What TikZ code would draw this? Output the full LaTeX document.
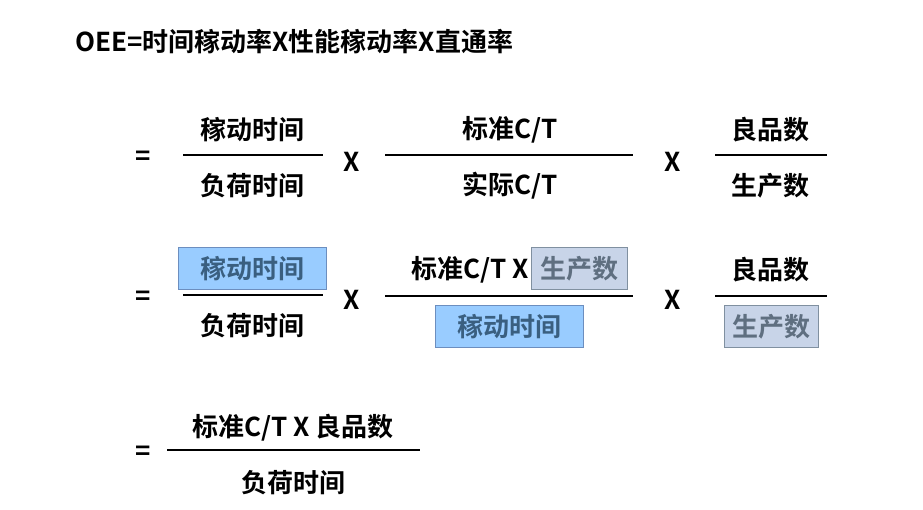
\documentclass[tikz,border=0pt]{standalone}
\usepackage{fontspec}
\setmainfont{Noto Sans CJK SC}[BoldFont={* Bold}]
\newfontfamily\cjkb{Noto Sans CJK SC Bold}
\definecolor{bfill}{HTML}{99CCFF}
\definecolor{bdraw}{HTML}{6C8EBF}
\definecolor{btext}{HTML}{3A5F80}
\definecolor{gfill}{HTML}{C8D4E8}
\definecolor{gdraw}{HTML}{8090A0}
\definecolor{gtext}{HTML}{5F6F80}
\begin{document}
\begin{tikzpicture}[x=1pt,y=-1pt,
  t/.style={font=\cjkb\fontsize{26}{26}\selectfont,inner sep=0pt},
  bl/.style={fill=bfill,draw=bdraw,line width=1pt,text=btext,minimum height=42pt,inner xsep=5pt},
  gr/.style={fill=gfill,draw=gdraw,line width=1pt,text=gtext,minimum height=42pt,inner xsep=2pt},
  fl/.style={line width=1.3pt}]
\useasboundingbox (0,0) rectangle (923,509);
\node[t,anchor=west] (title) at (75,42) {OEE=时间稼动率X性能稼动率X直通率};
% row 1
\node[t] (e1) at (143,158) {=};
\node[t] (n11) at (252,130) {稼动时间};
\node[t] (d11) at (252,186) {负荷时间};
\draw[fl] (183,155) -- (323,155);
\node[t] (x11) at (352,162) {X};
\node[t] (n12) at (510,130) {标准C/T};
\node[t] (d12) at (510,186) {实际C/T};
\draw[fl] (385,155) -- (633,155);
\node[t] (x12) at (673,162) {X};
\node[t] (n13) at (770,130) {良品数};
\node[t] (d13) at (770,186) {生产数};
\draw[fl] (715,155) -- (827,155);
% row 2
\node[t] (e2) at (143,298) {=};
\node[t,bl,minimum width=148pt] (n21) at (252,268.5) {稼动时间};
\node[t] (d21) at (252,326) {负荷时间};
\draw[fl] (183,295) -- (323,295);
\node[t] (x21) at (352,300) {X};
\node[t,anchor=east] (n22a) at (529,270) {标准C/T X};
\node[t,gr,minimum width=96pt] (n22b) at (579,268.5) {生产数};
\node[t,bl,minimum width=148pt] (d22) at (509,326.5) {稼动时间};
\draw[fl] (385,296) -- (633,296);
\node[t] (x22) at (673,300) {X};
\node[t] (n23) at (770,270) {良品数};
\node[t,gr,minimum width=94pt] (d23) at (771,326.5) {生产数};
\draw[fl] (715,296) -- (827,296);
% row 3
\node[t] (e3) at (143,453) {=};
\node[t] (n31) at (293,428) {标准C/T X 良品数};
\node[t] (d31) at (293,483) {负荷时间};
\draw[fl] (167,450) -- (420,450);
\end{tikzpicture}
\end{document}
